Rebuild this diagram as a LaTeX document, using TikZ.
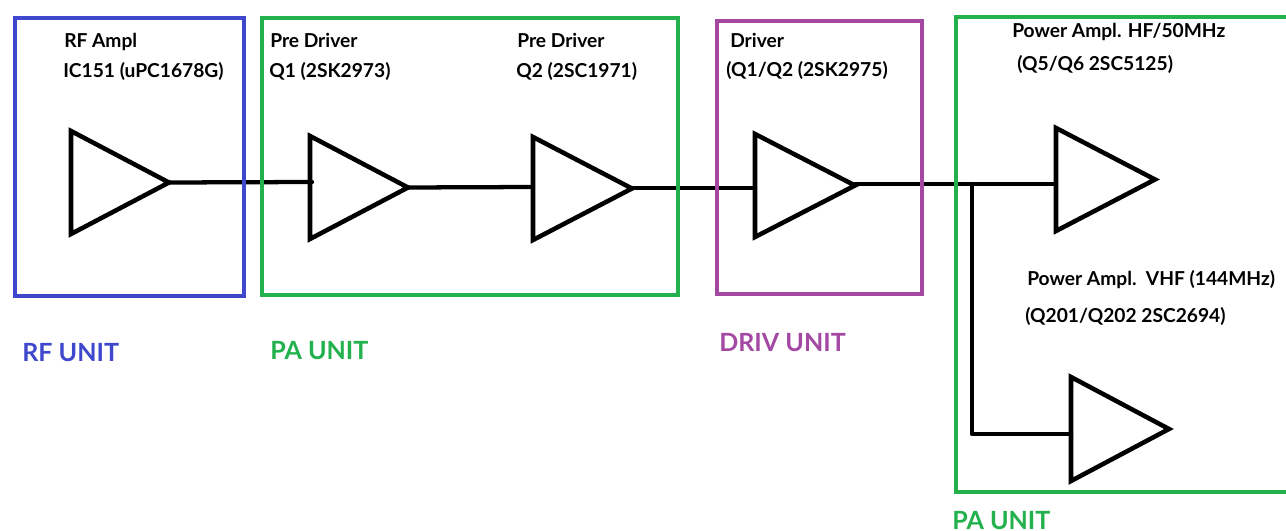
\documentclass[tikz,border=0pt]{standalone}
\usepackage{fontspec}
\setmainfont{Lato}
\usetikzlibrary{calc}
\definecolor{ublue}{RGB}{63,72,204}
\definecolor{ugreen}{RGB}{34,177,76}
\definecolor{upurple}{RGB}{163,73,164}
\tikzset{
  x=0.75pt, y=-0.75pt,
  wire/.style={line width=3.2pt, black, line cap=round, line join=round},
  ampl/.style={line width=3.4pt, black, line join=miter},
  unitbox/.style={line width=3pt, rectangle, draw, inner sep=0pt, outer sep=0pt, anchor=north west},
  lbl/.style={anchor=base west, inner sep=0pt, font=\fontsize{14.4pt}{16pt}\selectfont\bfseries, text=black},
  unitlbl/.style={anchor=base west, inner sep=0pt, font=\fontsize{18.8pt}{21pt}\selectfont\bfseries},
}
% #1 name, #2 x, #3 top y, #4 bottom y, #5 apex x
\newcommand{\amplifier}[5]{%
  \coordinate (#1top) at (#2,#3);
  \coordinate (#1bot) at (#2,#4);
  \coordinate (#1out) at (#5,{(#3+#4)/2});
  \draw[ampl] (#1top) -- (#1out) -- (#1bot) -- cycle;
}
\begin{document}
\begin{tikzpicture}
\useasboundingbox (0,0) rectangle (1286,531);
\clip (0,0) rectangle (1286,531);
\amplifier{a}{71}{131}{234}{169}
\amplifier{b}{310}{136}{239}{408}
\amplifier{c}{533}{137}{240}{632}
\amplifier{d}{755}{134}{237}{855}
\amplifier{e}{1056}{128}{231}{1155}
\amplifier{f}{1071}{377}{481}{1169}
\coordinate (bin) at (312,182);
\coordinate (cin) at (533,187);
\coordinate (dIn) at (755,188);
\coordinate (cOut) at (632,188);
\coordinate (dOut) at (855,184);
\coordinate (eIn) at (1056,184);
\coordinate (tap) at (972,184);
\coordinate (corner) at (972,434);
\coordinate (fIn) at (1071,434);
\draw[wire] (aout) -- (bin);
\draw[wire] (bout) -- (cin);
\draw[wire] (cOut) -- (dIn);
\draw[wire] (dOut) -- (eIn);
\draw[wire] (tap) -- (corner) -- (fIn);
\node[unitbox, draw=ublue, minimum width=228.5*0.75pt, minimum height=277*0.75pt] (rfbox) at (15,18.5) {};
\node[unitbox, draw=ugreen, minimum width=416*0.75pt, minimum height=276*0.75pt] (pabox) at (262,18.5) {};
\node[unitbox, draw=upurple, minimum width=205*0.75pt, minimum height=273*0.75pt] (drbox) at (716.5,21) {};
\node[unitbox, draw=ugreen, minimum width=340*0.75pt, minimum height=475*0.75pt] (hfbox) at (956,17) {};
\node[lbl] (t1) at (64,48) {RF Ampl};
\node[lbl] (t2) at (63,78) {IC151 (uPC1678G)};
\node[lbl] (t3) at (270,48) {Pre Driver};
\node[lbl] (t4) at (269,78) {Q1 (2SK2973)};
\node[lbl] (t5) at (517,48) {Pre Driver};
\node[lbl] (t6) at (516,78) {Q2 (2SC1971)};
\node[lbl] (t7) at (730,48) {Driver};
\node[lbl] (t8) at (726,77) {(Q1/Q2 (2SK2975)};
\node[lbl] (t9) at (1012,38) {Power Ampl. HF/50MHz};
\node[lbl] (t10) at (1017,71) {(Q5/Q6 2SC5125)};
\node[lbl] (t11) at (1027,286) {Power Ampl.\ \ VHF (144MHz)};
\node[lbl] (t12) at (1025,322) {(Q201/Q202 2SC2694)};
\node[unitlbl, text=ublue] (u1) at (22,361) {RF UNIT};
\node[unitlbl, text=ugreen] (u2) at (270,359) {PA UNIT};
\node[unitlbl, text=upurple] (u3) at (719,351) {DRIV UNIT};
\node[unitlbl, text=ugreen] (u4) at (952,529) {PA UNIT};
\end{tikzpicture}
\end{document}
